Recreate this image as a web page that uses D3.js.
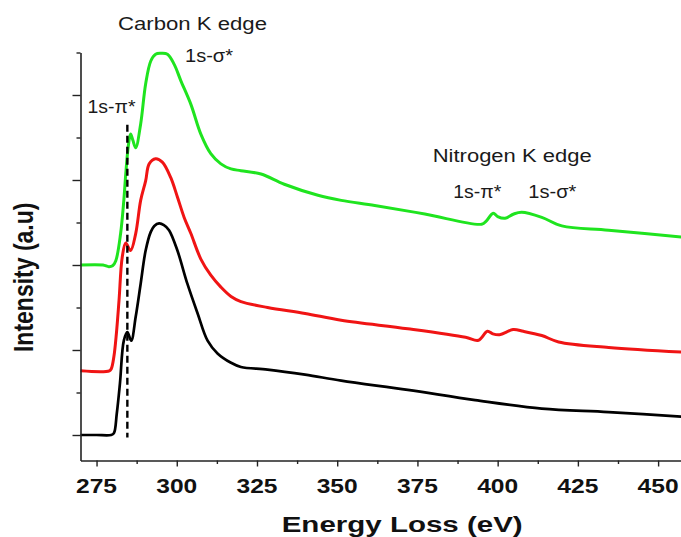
<!DOCTYPE html>
<html>
<head>
<meta charset="utf-8">
<script src="https://cdn.jsdelivr.net/npm/d3@7"></script>
<style>
  html, body { margin: 0; padding: 0; background: #fff; }
  svg { display: block; }
  text { font-family: "Liberation Sans", Arial, sans-serif; }
</style>
</head>
<body>
<svg id="chart" width="681" height="537"></svg>
<script>
// ---------- data ----------
const xTickValues = [275, 300, 325, 350, 375, 400, 425, 450];
const xMinorTicks = [287.5, 312.5, 337.5, 362.5, 387.5, 412.5, 437.5];
const yMajorTicks = [0, 1, 2, 3, 4];
const yMinorTicks = [0.5, 1.5, 2.5, 3.5, 4.5];

const blackEnergy = [270, 275, 279.5, 280.4, 281.3, 282.3, 283.5, 284.6, 285.8, 287.2, 288.75, 290.3, 291.9, 293, 294.5, 296, 297.6, 300.2, 303.3, 306.5, 309.6, 312.7, 316.9, 320, 328.3, 340, 351.25, 372, 393, 413.75, 434.6, 460];
const blackIntensity = [0, 0, 0, 0.02, 0.25, 0.61, 1.11, 1.21, 1.11, 1.39, 1.78, 2.17, 2.39, 2.46, 2.49, 2.47, 2.41, 2.17, 1.78, 1.43, 1.11, 0.96, 0.85, 0.80, 0.77, 0.71, 0.64, 0.53, 0.41, 0.31, 0.27, 0.21];

const redEnergy = [270, 279, 279.6, 280.4, 281.2, 282, 283, 284.1, 285.6, 287.2, 288.75, 290.3, 291.4, 293.4, 295.5, 298.1, 300.2, 302.3, 304.4, 307.5, 310.6, 313.75, 316.9, 320, 328.3, 340, 351.25, 372, 390, 394, 396.8, 398.5, 400.6, 404.8, 408, 413.75, 419, 434.6, 460];
const redIntensity = [0.755, 0.755, 0.78, 0.92, 1.2, 1.58, 2.09, 2.26, 2.17, 2.37, 2.76, 2.99, 3.19, 3.25, 3.21, 3.03, 2.80, 2.56, 2.37, 2.07, 1.88, 1.74, 1.63, 1.57, 1.50, 1.43, 1.35, 1.25, 1.15, 1.115, 1.22, 1.19, 1.18, 1.24, 1.22, 1.17, 1.095, 1.03, 0.97];

const greenEnergy = [270, 277, 278.8, 280, 281, 282.5, 283.5, 284.1, 284.9, 285.6, 286.3, 287.2, 288.75, 290.3, 291.9, 293.4, 295, 297.1, 299.2, 301.25, 304.4, 307.5, 310.6, 313.75, 316.9, 320, 326.25, 333.5, 344, 351.25, 361.7, 377.3, 395, 396.5, 398.6, 400, 402.3, 405, 407.5, 413.75, 420, 434.6, 460];
const greenIntensity = [2.0, 2.0, 1.98, 1.99, 2.05, 2.37, 2.76, 3.07, 3.4, 3.54, 3.47, 3.38, 3.66, 4.13, 4.40, 4.48, 4.49, 4.48, 4.36, 4.17, 3.89, 3.54, 3.31, 3.19, 3.13, 3.11, 3.07, 2.95, 2.82, 2.76, 2.70, 2.60, 2.48, 2.52, 2.61, 2.57, 2.55, 2.60, 2.62, 2.56, 2.46, 2.41, 2.32];

const markerEnergy = 284.6;           // dashed 1s-pi* marker
const markerRange = [-0.03, 3.65];

const labels = [
  { text: "Carbon K edge", x: 118, y: 29.5, len: 149 },
  { text: "1s-σ*", x: 185, y: 62, len: 48 },
  { text: "1s-π*", x: 87.5, y: 113, len: 48 },
  { text: "Nitrogen K edge", x: 432.7, y: 161.7, len: 159 },
  { text: "1s-π*", x: 453.3, y: 198.3, len: 48 },
  { text: "1s-σ*", x: 528.3, y: 198.3, len: 48 }
];

// ---------- scales ----------
const svg = d3.select("#chart");
const x = d3.scaleLinear().domain([270, 460]).range([80.5, 690.2]);
const y = d3.scaleLinear().domain([-0.3, 4.5]).range([460.5, 52.5]);

// ---------- curves ----------
const line = d3.line().x(d => x(d[0])).y(d => y(d[1])).curve(d3.curveCatmullRom.alpha(0.5));
const series = [
  { e: blackEnergy, v: blackIntensity, color: "#000000", w: 2.7 },
  { e: redEnergy, v: redIntensity, color: "#f01414", w: 3 },
  { e: greenEnergy, v: greenIntensity, color: "#1fe41f", w: 3 }
];
series.forEach(s => {
  svg.append("path")
    .datum(d3.zip(s.e, s.v))
    .attr("d", line)
    .attr("fill", "none")
    .attr("stroke", s.color)
    .attr("stroke-width", s.w)
    .attr("stroke-linejoin", "round");
});

// dashed marker
svg.append("line")
  .attr("x1", x(markerEnergy)).attr("x2", x(markerEnergy))
  .attr("y1", y(markerRange[1])).attr("y2", y(markerRange[0]))
  .attr("stroke", "#000").attr("stroke-width", 2.4)
  .attr("stroke-dasharray", "7,4");

// ---------- axes ----------
const axisColor = "#222";
svg.append("g").attr("transform", `translate(0,${y(-0.3)})`)
  .call(d3.axisBottom(x).tickValues(xTickValues).tickSize(6).tickSizeOuter(0).tickFormat(""));
svg.append("g").attr("transform", `translate(0,${y(-0.3)})`)
  .call(d3.axisBottom(x).tickValues(xMinorTicks).tickSize(3.5).tickSizeOuter(0).tickFormat(""))
  .select(".domain").remove();
svg.append("g").attr("transform", `translate(${x(270)},0)`)
  .call(d3.axisLeft(y).tickValues(yMajorTicks).tickSize(8).tickSizeOuter(0).tickFormat(""));
svg.append("g").attr("transform", `translate(${x(270)},0)`)
  .call(d3.axisLeft(y).tickValues(yMinorTicks).tickSize(4).tickSizeOuter(0).tickFormat(""))
  .select(".domain").remove();
svg.selectAll(".domain").attr("stroke", axisColor).attr("stroke-width", 1.6);
svg.selectAll(".tick line").attr("stroke", axisColor).attr("stroke-width", 1.4);

// x tick labels
svg.append("g").selectAll("text").data(xTickValues).join("text")
  .attr("x", d => x(d) - 20.5)
  .attr("y", 492.7)
  .attr("textLength", 41)
  .attr("lengthAdjust", "spacingAndGlyphs")
  .attr("font-size", 20)
  .attr("font-weight", "bold")
  .attr("fill", "#111")
  .text(d => d);

// axis titles
svg.append("text")
  .attr("x", 281.7).attr("y", 532.3)
  .attr("textLength", 241).attr("lengthAdjust", "spacingAndGlyphs")
  .attr("font-size", 22).attr("font-weight", "bold").attr("fill", "#111")
  .text("Energy Loss (eV)");
svg.append("text")
  .attr("transform", "translate(33.3,277.3) scale(1.2,1) rotate(-90)")
  .attr("text-anchor", "middle")
  .attr("font-size", 23).attr("font-weight", "bold").attr("fill", "#111")
  .text("Intensity (a.u)");

// annotations
svg.append("g").selectAll("text").data(labels).join("text")
  .attr("x", d => d.x).attr("y", d => d.y)
  .attr("textLength", d => d.len).attr("lengthAdjust", "spacingAndGlyphs")
  .attr("font-size", 17.5).attr("fill", "#1a1a1a")
  .text(d => d.text);
</script>
</body>
</html>
